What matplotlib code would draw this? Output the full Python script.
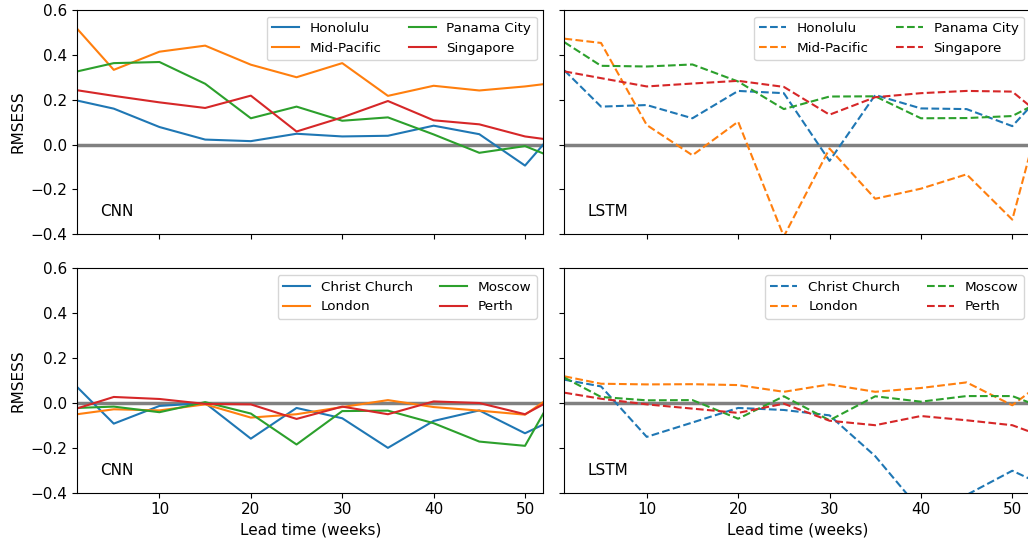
import matplotlib
matplotlib.use("Agg")
import matplotlib.pyplot as plt

# lead times (weeks)
lead = [1, 5, 10, 15, 20, 25, 30, 35, 40, 45, 50, 52]

# tropical cities
trop_names = ["Honolulu", "Mid-Pacific", "Panama City", "Singapore"]
trop_cnn = [
    [0.196, 0.160, 0.078, 0.022, 0.015, 0.048, 0.036, 0.039, 0.084, 0.046, -0.094, 0.000],
    [0.516, 0.333, 0.414, 0.441, 0.356, 0.300, 0.363, 0.217, 0.262, 0.241, 0.259, 0.269],
    [0.326, 0.363, 0.368, 0.271, 0.117, 0.169, 0.106, 0.121, 0.045, -0.037, -0.007, -0.040],
    [0.242, 0.217, 0.188, 0.163, 0.218, 0.058, 0.121, 0.194, 0.108, 0.090, 0.036, 0.025],
]
trop_lstm = [
    [0.330, 0.169, 0.176, 0.117, 0.239, 0.229, -0.073, 0.221, 0.161, 0.158, 0.082, 0.170],
    [0.472, 0.453, 0.087, -0.048, 0.102, -0.410, -0.018, -0.242, -0.197, -0.133, -0.335, -0.030],
    [0.456, 0.351, 0.348, 0.357, 0.281, 0.158, 0.214, 0.215, 0.117, 0.118, 0.127, 0.169],
    [0.326, 0.296, 0.259, 0.272, 0.284, 0.257, 0.133, 0.211, 0.229, 0.239, 0.236, 0.169],
]

# extratropical cities
extra_names = ["Christ Church", "London", "Moscow", "Perth"]
extra_cnn = [
    [0.071, -0.092, -0.013, 0.000, -0.159, -0.022, -0.068, -0.200, -0.080, -0.033, -0.135, -0.096],
    [-0.050, -0.028, -0.033, -0.006, -0.065, -0.050, -0.018, 0.013, -0.018, -0.034, -0.052, 0.004],
    [-0.022, -0.016, -0.041, 0.004, -0.047, -0.185, -0.036, -0.034, -0.090, -0.172, -0.191, -0.047],
    [-0.024, 0.027, 0.018, -0.004, -0.006, -0.071, -0.016, -0.050, 0.007, 0.000, -0.050, -0.006],
]
extra_lstm = [
    [0.104, 0.074, -0.151, -0.087, -0.022, -0.031, -0.055, -0.237, -0.480, -0.410, -0.302, -0.340],
    [0.119, 0.086, 0.083, 0.084, 0.080, 0.050, 0.083, 0.050, 0.067, 0.092, -0.010, 0.052],
    [0.113, 0.027, 0.012, 0.013, -0.070, 0.030, -0.077, 0.030, 0.006, 0.031, 0.031, 0.000],
    [0.046, 0.019, -0.006, -0.025, -0.044, -0.003, -0.079, -0.099, -0.058, -0.077, -0.099, -0.129],
]

colors = ["tab:blue", "tab:orange", "tab:green", "tab:red"]


def main():
    plt.rcParams["font.size"] = 11
    fig, axes = plt.subplots(2, 2, figsize=(10.28, 5.4), dpi=100,
                             sharex=True, sharey=True)
    fig.subplots_adjust(left=0.0751, right=1.0025, top=0.9815, bottom=0.0876,
                        wspace=0.0455, hspace=0.153)

    panels = [
        (axes[0, 0], trop_names, trop_cnn, "-", "CNN"),
        (axes[0, 1], trop_names, trop_lstm, "--", "LSTM"),
        (axes[1, 0], extra_names, extra_cnn, "-", "CNN"),
        (axes[1, 1], extra_names, extra_lstm, "--", "LSTM"),
    ]
    for ax, names, series, ls, tag in panels:
        ax.axhline(0, color="gray", lw=2.5)
        for name, vals, c in zip(names, series, colors):
            ax.plot(lead, vals, ls, color=c, lw=1.5, label=name)
        ax.text(0.05, 0.1, tag, transform=ax.transAxes, va="center")
        ax.legend(loc="upper right", ncol=2, fontsize=9.7)

    axes[0, 0].set_xlim(1, 52)
    axes[0, 0].set_ylim(-0.4, 0.6)
    axes[0, 0].set_xticks([10, 20, 30, 40, 50])
    axes[0, 0].set_yticks([-0.4, -0.2, 0.0, 0.2, 0.4, 0.6])
    axes[0, 0].set_ylabel("RMSESS")
    axes[1, 0].set_ylabel("RMSESS")
    axes[1, 0].set_xlabel("Lead time (weeks)")
    axes[1, 1].set_xlabel("Lead time (weeks)")

    fig.savefig("out.png", dpi=100)


if __name__ == "__main__":
    main()
